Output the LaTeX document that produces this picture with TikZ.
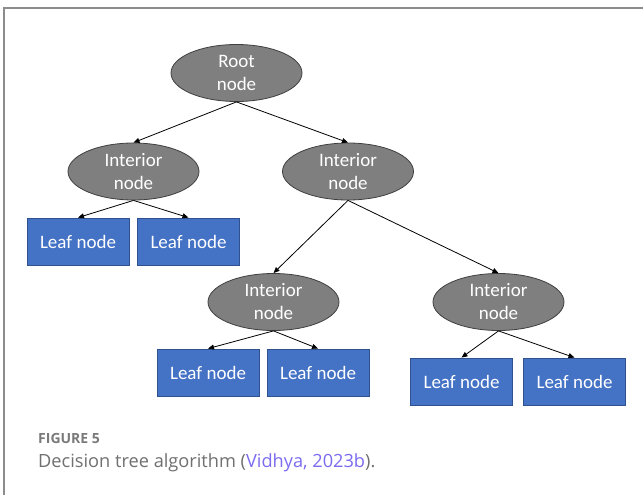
\documentclass[tikz,border=0pt]{standalone}
\usepackage{fontspec}
\setmainfont{Carlito}
\newfontfamily\capfont{Open Sans}
\usetikzlibrary{shapes.geometric,arrows.meta}
\definecolor{ellfill}{HTML}{7F7F7F}
\definecolor{elldraw}{HTML}{3F3F3F}
\definecolor{leaffill}{HTML}{4472C4}
\definecolor{leafdraw}{HTML}{2F528F}
\definecolor{framegray}{HTML}{8C8C8C}
\definecolor{captext}{HTML}{707070}
\definecolor{figtext}{HTML}{7A7A7A}
\definecolor{linkcol}{HTML}{7B6CF0}
\begin{document}
\begin{tikzpicture}[x=1pt,y=-1pt,
  inode/.style={ellipse, fill=ellfill, draw=elldraw, line width=0.8pt, minimum width=131pt, minimum height=57pt, inner sep=0pt, text=white, align=center, font=\fontsize{19}{23}\selectfont},
  leaf/.style={rectangle, fill=leaffill, draw=leafdraw, line width=0.8pt, minimum width=102pt, minimum height=47pt, inner sep=0pt, text=white, font=\fontsize{19}{23}\selectfont},
  edge/.style={-{Triangle[length=6pt,width=5pt]}, line width=0.8pt, black},
  capstyle/.style={anchor=base west, inner sep=0pt, text=captext}]
\useasboundingbox (0,0) rectangle (643,495);
\fill[white] (0,0) rectangle (643,495);
\draw[framegray, line width=2pt] (4,495) -- (4,8) -- (643,8);

\node[inode] (root) at (236.5,73) {Root\\node};
\node[inode] (intL) at (133.5,171.5) {Interior\\node};
\node[inode] (intR) at (348,171.5) {Interior\\node};
\node[inode] (intBL) at (273.5,302) {Interior\\node};
\node[inode] (intBR) at (498.5,302) {Interior\\node};

\node[leaf] (leaf1) at (78,241.5) {Leaf node};
\node[leaf] (leaf2) at (188.5,241.5) {Leaf node};
\node[leaf] (leaf3) at (208,372.5) {Leaf node};
\node[leaf] (leaf4) at (318,372.5) {Leaf node};
\node[leaf] (leaf5) at (461.5,381.5) {Leaf node};
\node[leaf] (leaf6) at (574.5,381.5) {Leaf node};

\draw[edge] (root.south) -- (intL.north);
\draw[edge] (root.south) -- (intR.north);
\draw[edge] (intL.south) -- (leaf1.north);
\draw[edge] (intL.south) -- (leaf2.north);
\draw[edge] (intR.south) -- (intBL.north);
\draw[edge] (intR.south) -- (intBR.north);
\draw[edge] (intBL.south) -- (leaf3.north);
\draw[edge] (intBL.south) -- (leaf4.north);
\draw[edge] (intBR.south) -- (leaf5.north);
\draw[edge] (intBR.south) -- (leaf6.north);

\node[capstyle, text=figtext, font=\capfont\bfseries\fontsize{14}{16}\selectfont] (figlabel) at (38,443) {FIGURE 5};
\node[capstyle, font=\capfont\fontsize{18.2}{22}\selectfont] (caption) at (38,467) {Decision tree algorithm (\textcolor{linkcol}{Vidhya, 2023b}).};
\end{tikzpicture}
\end{document}
